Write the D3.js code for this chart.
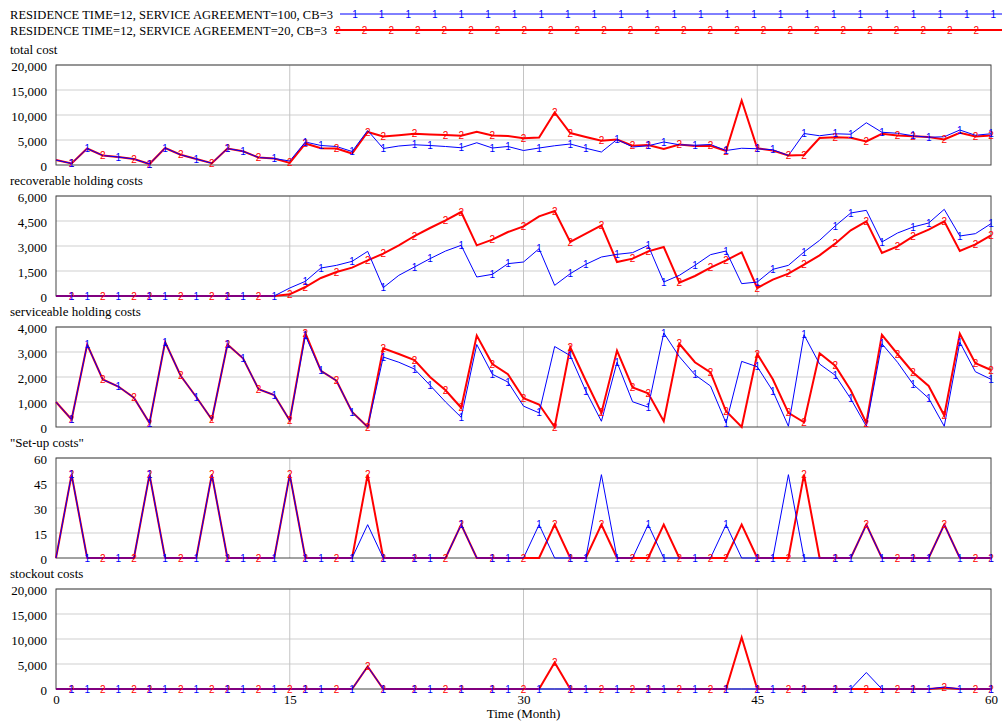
<!DOCTYPE html>
<html>
<head>
<meta charset="utf-8">
<script src="https://cdn.jsdelivr.net/npm/d3@7"></script>
<style>
    body { margin: 0; background: #fff; }
    svg text { font-family: "Liberation Serif", "Times New Roman", serif; }
</style>
</head>
<body>
<div id="chart"></div>
<script>
// time axis (months 0..60)
const months = d3.range(0, 61);
const xTicks = [0, 15, 30, 45, 60];

const runNames = [
    "RESIDENCE TIME=12, SERVICE AGREEMENT=100, CB=3",
    "RESIDENCE TIME=12, SERVICE AGREEMENT=20, CB=3"
];

// run 1 = service agreement 100 (blue), run 2 = service agreement 20 (red)
const totalCost1 = [
    1000, 300, 3300, 1900, 1600, 1200, 200, 3400, 2050, 1200,
    350, 3300, 2750, 1500, 1300, 800, 4600, 3900, 3700, 2700,
    6900, 3300, 3800, 4050, 3900, 3700, 3450, 4450, 3400, 3700,
    2900, 3400, 3850, 4200, 3350, 2600, 5100, 3600, 3850, 4600,
    4050, 3950, 4100, 2900, 3350, 3250, 3050, 1900, 6300, 5850,
    6250, 6150, 8450, 6550, 6350, 5850, 5550, 5650, 7000, 5950,
    6250];
const totalCost2 = [
    1000, 300, 3300, 1900, 1600, 1200, 200, 3400, 2050, 1200,
    350, 3300, 2750, 1500, 1300, 420, 4300, 3350, 3300, 2300,
    6600, 5700, 5950, 6250, 6100, 6000, 5850, 6650, 5900, 5800,
    5330, 5500, 10500, 6400, 5600, 4850, 5100, 3850, 4000, 3200,
    4100, 3800, 3850, 2800, 12900, 3350, 2900, 1900, 2000, 5400,
    5550, 5450, 4700, 6250, 5900, 5750, 5600, 5100, 6450, 5700,
    5900];

const recov1 = [
    0, 0, 0, 0, 0, 0, 0, 0, 0, 0,
    0, 0, 0, 0, 0, 480, 880, 1680, 1840, 2080,
    2680, 500, 1240, 1740, 2240, 2700, 3040, 1140, 1300, 1940,
    2040, 2840, 640, 1340, 1900, 2340, 2500, 2600, 3040, 840,
    1240, 1840, 2480, 2700, 740, 840, 1600, 1840, 2640, 3340,
    4200, 4980, 5140, 3240, 3780, 4140, 4380, 5200, 3600, 3740,
    4340];
const recov2 = [
    0, 0, 0, 0, 0, 0, 0, 0, 0, 0,
    0, 0, 0, 0, 0, 100, 540, 1080, 1440, 1700,
    2140, 2540, 3040, 3600, 4080, 4540, 5040, 3040, 3380, 3840,
    4180, 4780, 5100, 3240, 3740, 4240, 2040, 2240, 2680, 2940,
    800, 1200, 1700, 2140, 2620, 480, 980, 1340, 1880, 2440,
    3140, 3940, 4480, 2580, 2980, 3580, 3980, 4480, 2700, 3100,
    3640];

const service1 = [
    1000, 300, 3300, 1900, 1620, 1170, 160, 3400, 2050, 1200,
    300, 3300, 2750, 1510, 1280, 260, 3660, 2250, 1850, 600,
    0, 2800, 2590, 2320, 1670, 1000, 390, 3300, 2110, 1800,
    835, 565, 3220, 2855, 1440, 230, 2590, 1010, 795, 3760,
    2815, 2090, 1640, 160, 2625, 2410, 1440, 30, 3690, 2520,
    2070, 1130, 30, 3330, 2590, 1710, 1150, 30, 3390, 2210,
    1910];
const service2 = [
    1000, 300, 3300, 1900, 1620, 1170, 160, 3400, 2050, 1200,
    300, 3300, 2750, 1510, 1280, 260, 3760, 2250, 1850, 600,
    0, 3150, 2920, 2680, 2000, 1470, 770, 3660, 2520, 2110,
    1150, 900, 0, 3190, 1850, 565, 3055, 1580, 1350, 230,
    3330, 2590, 2180, 630, 0, 2920, 1910, 565, 190, 2950,
    2450, 1470, 160, 3690, 2920, 2180, 1640, 460, 3730, 2550,
    2280];

const setup1 = [
    0, 50, 0, 0, 0, 0, 50, 0, 0, 0,
    50, 0, 0, 0, 0, 50, 0, 0, 0, 0,
    20, 0, 0, 0, 0, 0, 20, 0, 0, 0,
    0, 20, 0, 0, 0, 50, 0, 0, 20, 0,
    0, 0, 0, 20, 0, 0, 0, 50, 0, 0,
    0, 0, 20, 0, 0, 0, 0, 20, 0, 0,
    0];
const setup2 = [
    0, 50, 0, 0, 0, 0, 50, 0, 0, 0,
    50, 0, 0, 0, 0, 50, 0, 0, 0, 0,
    50, 0, 0, 0, 0, 0, 20, 0, 0, 0,
    0, 0, 20, 0, 0, 20, 0, 0, 0, 20,
    0, 0, 0, 0, 20, 0, 0, 0, 50, 0,
    0, 0, 20, 0, 0, 0, 0, 20, 0, 0,
    0];

const stockout1 = [
    0, 0, 0, 0, 0, 0, 0, 0, 0, 0,
    0, 0, 0, 0, 0, 0, 0, 0, 0, 0,
    4500, 0, 0, 0, 0, 0, 0, 0, 0, 0,
    0, 0, 0, 0, 0, 0, 0, 0, 0, 0,
    0, 0, 0, 0, 0, 0, 0, 0, 0, 0,
    0, 0, 3300, 0, 0, 0, 0, 400, 0, 0,
    0];
const stockout2 = [
    0, 0, 0, 0, 0, 0, 0, 0, 0, 0,
    0, 0, 0, 0, 0, 0, 0, 0, 0, 0,
    4500, 0, 0, 0, 0, 0, 0, 0, 0, 0,
    0, 0, 5300, 0, 0, 0, 0, 0, 0, 0,
    0, 0, 0, 0, 10300, 0, 0, 0, 0, 0,
    0, 0, 0, 0, 0, 0, 0, 250, 0, 0,
    0];

// months where the "1" / "2" run markers sit
const markMonths1 = [1, 2, 4, 6, 7, 9, 11, 12, 14, 16, 17, 19, 21, 23, 24, 26, 28, 29,
    31, 33, 34, 36, 38, 39, 41, 43, 45, 46, 48, 50, 51, 53, 55, 56, 58, 60];
const markMonths2 = [1, 3, 5, 6, 8, 10, 11, 13, 15, 16, 18, 20, 21, 23, 25, 26, 28, 30,
    32, 33, 35, 37, 38, 40, 42, 43, 45, 47, 48, 50, 52, 54, 55, 57, 59, 60];

const panelTitles = ["total cost", "recoverable holding costs", "serviceable holding costs", "\"Set-up costs\"", "stockout costs"];
const panelMax = [20000, 6000, 4000, 60, 20000];
const panelRun1 = [totalCost1, recov1, service1, setup1, stockout1];
const panelRun2 = [totalCost2, recov2, service2, setup2, stockout2];

const blue = "#0000ff", red = "#ff0000";

const width = 1002, height = 721;
const margin = {left: 56, right: 11};
const panelTop = 65, panelStep = 131, panelH = 100;

const svg = d3.select("#chart").append("svg")
    .attr("width", width)
    .attr("height", height)
    .style("display", "block");

svg.append("rect").attr("width", width).attr("height", height).attr("fill", "#fff");

const x = d3.scaleLinear().domain([0, 60]).range([margin.left, width - margin.right]);

// legend
const legend = [
    {name: runNames[0], color: blue, mark: "1", y: 14, lineStart: 340, markStart: 355, width: 1},
    {name: runNames[1], color: red, mark: "2", y: 30, lineStart: 334, markStart: 338, width: 2}
];
legend.forEach(l => {
    svg.append("text")
        .attr("x", 10).attr("y", l.y + 5)
        .attr("font-size", 12.5)
        .attr("textLength", l.lineStart - 17)
        .attr("fill", "#000")
        .text(l.name);
    svg.append("line")
        .attr("x1", l.lineStart).attr("x2", width)
        .attr("y1", l.y).attr("y2", l.y)
        .attr("stroke", l.color).attr("stroke-width", l.width);
    svg.append("g").selectAll("text")
        .data(d3.range(l.markStart, width, 26.6))
        .join("text")
        .attr("x", d => d).attr("y", l.y)
        .attr("dy", "0.35em")
        .attr("text-anchor", "middle")
        .attr("font-size", 10)
        .style("font-family", "Liberation Sans, Arial, sans-serif")
        .attr("fill", l.color)
        .text(l.mark);
});

panelTitles.forEach((title, i) => {
    const top = panelTop + i * panelStep;
    const y = d3.scaleLinear().domain([0, panelMax[i]]).range([top + panelH, top]);
    const g = svg.append("g");
    const yTicks = d3.range(0, 5).map(k => panelMax[i] * k / 4);

    g.append("text")
        .attr("x", 10).attr("y", top - 11)
        .attr("font-size", 13)
        .text(title);

    // grid
    g.selectAll(".hgrid")
        .data(yTicks.slice(1))
        .join("line")
        .attr("x1", x(0)).attr("x2", x(60))
        .attr("y1", d => y(d)).attr("y2", d => y(d))
        .attr("stroke", "#cfcfcf");
    g.selectAll(".vgrid")
        .data(xTicks.slice(1, -1))
        .join("line")
        .attr("x1", d => x(d)).attr("x2", d => x(d))
        .attr("y1", top).attr("y2", top + panelH)
        .attr("stroke", "#c4c4c4");

    g.append("rect")
        .attr("x", x(0)).attr("y", top)
        .attr("width", x(60) - x(0)).attr("height", panelH)
        .attr("fill", "none")
        .attr("stroke", "#444");

    // y axis labels
    const yAxis = d3.axisLeft(y).tickValues(yTicks).tickFormat(d3.format(",")).tickSize(0).tickPadding(9);
    const ya = g.append("g").attr("transform", `translate(${x(0)},0)`).call(yAxis);
    ya.select(".domain").remove();
    ya.selectAll("text")
        .attr("font-size", 13)
        .style("font-family", "Liberation Serif, serif")
        .attr("fill", "#000")
        .attr("dy", "0.45em");

    const line = d3.line().x((d, j) => x(months[j])).y(d => y(d));

    g.append("path")
        .attr("d", line(panelRun2[i]))
        .attr("fill", "none")
        .attr("stroke", red)
        .attr("stroke-width", 2);
    g.append("path")
        .attr("d", line(panelRun1[i]))
        .attr("fill", "none")
        .attr("stroke", blue)
        .attr("stroke-width", 1);

    [[markMonths2, panelRun2[i], red, "2"], [markMonths1, panelRun1[i], blue, "1"]].forEach(([mm, vals, col, lab]) => {
        g.append("g").selectAll("text")
            .data(mm)
            .join("text")
            .attr("x", d => x(d))
            .attr("y", d => y(vals[d]))
            .attr("dy", "0.35em")
            .attr("text-anchor", "middle")
            .attr("font-size", 10)
            .style("font-family", "Liberation Sans, Arial, sans-serif")
            .attr("fill", col)
            .text(lab);
    });

    if (i === panelTitles.length - 1) {
        const xAxis = d3.axisBottom(x).tickValues(xTicks).tickSize(0).tickPadding(6);
        const xa = g.append("g").attr("transform", `translate(0,${top + panelH})`).call(xAxis);
        xa.select(".domain").remove();
        xa.selectAll("text")
            .attr("font-size", 13)
            .style("font-family", "Liberation Serif, serif")
            .attr("fill", "#000");
        g.append("text")
            .attr("x", x(30)).attr("y", top + panelH + 29)
            .attr("text-anchor", "middle")
            .attr("font-size", 13)
            .text("Time (Month)");
    }
});
</script>
</body>
</html>
